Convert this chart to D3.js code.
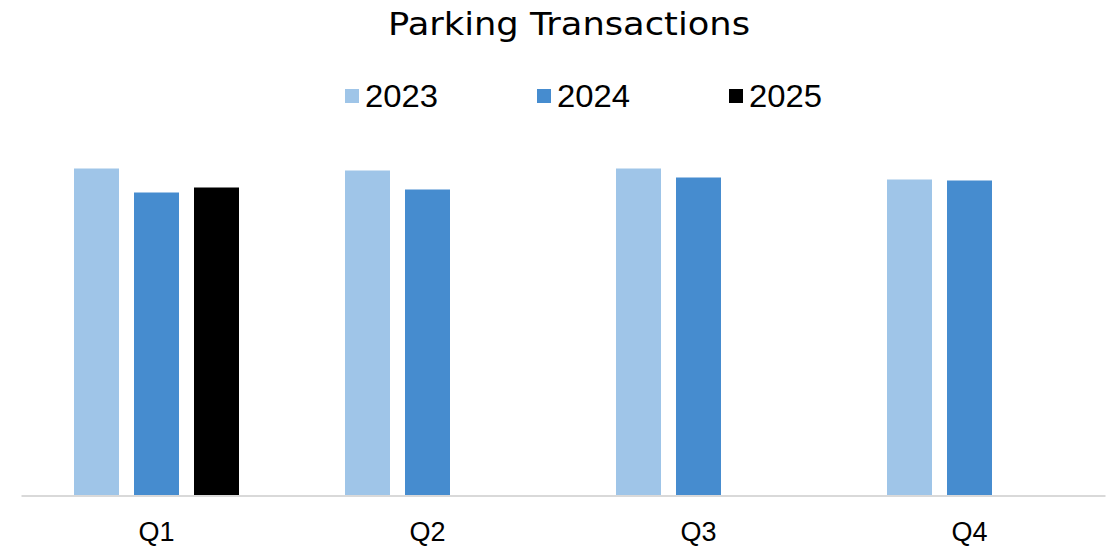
<!DOCTYPE html>
<html>
<head>
<meta charset="utf-8">
<script src="https://cdn.jsdelivr.net/npm/d3@7"></script>
<style>
  body { margin: 0; background: #fff; }
  svg { display: block; }
</style>
</head>
<body>
<svg id="chart" width="1110" height="549"></svg>
<script>
const quarters = ['Q1', 'Q2', 'Q3', 'Q4'];
const years = ['2023', '2024', '2025'];
// values (no y axis shown, units relative)
const values2023 = [327, 325, 327, 316];
const values2024 = [303, 306, 318, 315];
const values2025 = [308, null, null, null];

const colors = {
  2023: '#9fc5e8',
  2024: '#468ccf',
  2025: '#000000',
};

const series = [values2023, values2024, values2025];

const svg = d3.select('#chart');
const baseY = 495.5;

const x = d3.scaleBand()
  .domain(quarters)
  .range([21, 1105]);

const xInner = d3.scaleBand()
  .domain(years)
  .range([53, 53 + 165])
  .paddingInner(0.25);

const y = d3.scaleLinear()
  .domain([0, 400])
  .range([baseY, baseY - 400]);

// bars
quarters.forEach((q, qi) => {
  years.forEach((yr, yi) => {
    const v = series[yi][qi];
    if (v == null) return;
    svg.append('rect')
      .attr('x', x(q) + xInner(yr))
      .attr('y', y(v))
      .attr('width', xInner.bandwidth())
      .attr('height', y(0) - y(v))
      .attr('fill', colors[yr]);
  });
});

// baseline axis
const xAxis = svg.append('g')
  .attr('transform', `translate(0,${baseY})`)
  .call(d3.axisBottom(x).tickSize(0).tickPadding(26));
xAxis.select('.domain')
  .attr('stroke', '#d9d9d9')
  .attr('stroke-width', 2);
xAxis.selectAll('text')
  .attr('font-family', 'Liberation Sans, Arial, sans-serif')
  .attr('font-size', 27)
  .attr('fill', '#000');

// title
svg.append('text')
  .attr('x', 388)
  .attr('y', 35)
  .attr('font-family', 'DejaVu Sans, sans-serif')
  .attr('font-size', 32)
  .attr('textLength', 362)
  .attr('lengthAdjust', 'spacingAndGlyphs')
  .attr('fill', '#000')
  .text('Parking Transactions');

// legend
const legendX = [345, 537, 729];
const legend = svg.append('g');
years.forEach((yr, i) => {
  const item = legend.append('g').attr('transform', `translate(${legendX[i]},0)`);
  item.append('rect')
    .attr('x', 0)
    .attr('y', 89)
    .attr('width', 14)
    .attr('height', 14)
    .attr('fill', colors[yr]);
  item.append('text')
    .attr('x', 20)
    .attr('y', 107)
    .attr('font-family', 'Liberation Sans, Arial, sans-serif')
    .attr('font-size', 30.5)
    .attr('textLength', 73)
    .attr('lengthAdjust', 'spacingAndGlyphs')
    .attr('fill', '#000')
    .text(yr);
});
</script>
</body>
</html>
